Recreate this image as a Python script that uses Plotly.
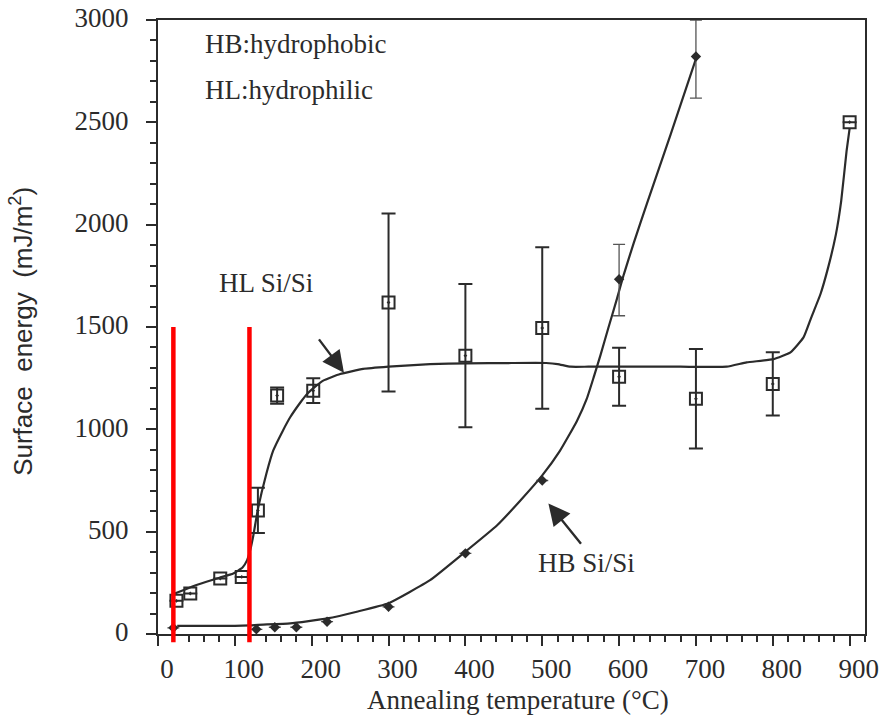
import plotly.graph_objects as go

# ---------------- data ----------------
# HL Si/Si (hydrophilic) measured points
hl_x = [24, 42, 81, 109, 130, 155, 202, 300, 400, 500, 600, 700, 800, 900]
hl_y = [162, 198, 271, 279, 604, 1165, 1189, 1620, 1360, 1495, 1257, 1149, 1222, 2501]
hl_err = [0, 0, 0, 0, 110, 40, 60, 435, 350, 395, 142, 243, 155, 0]

# HB Si/Si (hydrophobic) measured points
hb_x = [20, 128, 152, 180, 220, 300, 400, 500, 600, 700]
hb_y = [30, 23, 33, 33, 60, 133, 394, 750, 1733, 2822]
hb_err_plus = [0, 0, 0, 0, 0, 0, 0, 0, 171, 178]
hb_err_minus = [0, 0, 0, 0, 0, 0, 0, 0, 178, 204]

# HL fitted curve
hl_fit_x = [20, 40, 63, 80, 98, 110, 116, 120, 124, 130, 141, 150, 162, 172, 185, 194,
            205, 215, 237, 267, 300, 354, 402, 460, 505, 520, 537, 560, 620, 680, 740,
            766, 801, 823, 840, 850, 862, 872, 882, 889, 896, 900]
hl_fit_y = [195, 225, 255, 275, 296, 325, 361, 410, 480, 610, 783, 897, 990, 1059, 1130, 1173,
            1210, 1238, 1270, 1295, 1306, 1319, 1322, 1324, 1324, 1319, 1306, 1306, 1306, 1306, 1306,
            1327, 1343, 1376, 1449, 1546, 1660, 1790, 1950, 2115, 2359, 2470]

# HB fitted curve
hb_fit_x = [25, 60, 100, 120, 130, 172, 220, 260, 300, 354, 397, 441, 471, 500, 523, 545,
            558, 567, 576, 586, 597, 606, 619, 636, 667, 700]
hb_fit_y = [40, 40, 40, 42, 45, 52, 76, 110, 150, 263, 393, 530, 650, 775, 895, 1040,
            1150, 1255, 1365, 1495, 1635, 1755, 1910, 2100, 2440, 2810]

# red marker lines (x position, top value, bottom value)
red_x = [20, 119]
red_top = 1500
red_bottom = -40

X_MAX = 920
Y_MAX = 3000

INK = "#2b2b2b"
SERIF = "Liberation Serif, Times New Roman, Times, serif"
SANS = "Liberation Sans, Arial, sans-serif"

fig = go.Figure()

fig.add_trace(go.Scatter(
    x=hl_fit_x, y=hl_fit_y, mode="lines",
    line=dict(color=INK, width=2.2, shape="spline", smoothing=0.4),
    hoverinfo="skip", showlegend=False))
fig.add_trace(go.Scatter(
    x=hb_fit_x, y=hb_fit_y, mode="lines",
    line=dict(color=INK, width=2.2, shape="spline", smoothing=0.4),
    hoverinfo="skip", showlegend=False))

fig.add_trace(go.Scatter(
    x=hl_x, y=hl_y, mode="markers", name="HL Si/Si",
    marker=dict(symbol="square-open-dot", size=12, color=INK, line=dict(width=2, color=INK)),
    error_y=dict(type="data", array=hl_err, symmetric=True, color=INK, thickness=2, width=7),
    showlegend=False))
fig.add_trace(go.Scatter(
    x=hb_x, y=hb_y, mode="markers", name="HB Si/Si",
    marker=dict(symbol="diamond", size=8, color=INK),
    error_y=dict(type="data", array=hb_err_plus, arrayminus=hb_err_minus, symmetric=False,
                 color="#555555", thickness=1.3, width=6),
    showlegend=False))

shapes = []
for rx in red_x:
    shapes.append(dict(type="line", xref="x", yref="y domain",
                       x0=rx, x1=rx, y0=red_top / Y_MAX, y1=red_bottom / Y_MAX,
                       line=dict(color="#ff0000", width=4.5), layer="above"))
# small overhang of the x axis to the left of the y axis
shapes.append(dict(type="line", xref="paper", yref="paper", x0=-0.017, x1=0, y0=0, y1=0,
                   line=dict(color=INK, width=2)))

annotations = [
    dict(x=58, y=2885, xref="x", yref="y", text="HB:hydrophobic", showarrow=False,
         xanchor="left", yanchor="middle", font=dict(family=SERIF, size=27, color=INK)),
    dict(x=58, y=2656, xref="x", yref="y", text="HL:hydrophilic", showarrow=False,
         xanchor="left", yanchor="middle", font=dict(family=SERIF, size=27, color=INK)),
    dict(x=77, y=1715, xref="x", yref="y", text="HL Si/Si", showarrow=False,
         xanchor="left", yanchor="middle", font=dict(family=SERIF, size=27, color=INK)),
    dict(x=492, y=346, xref="x", yref="y", text="HB Si/Si", showarrow=False,
         xanchor="left", yanchor="middle", font=dict(family=SERIF, size=27, color=INK)),
    # arrows
    dict(x=242, y=1277, ax=208, ay=1447, xref="x", yref="y", axref="x", ayref="y",
         text="", showarrow=True, arrowhead=2, arrowsize=1.8, arrowwidth=2.4, arrowcolor=INK),
    dict(x=508, y=638, ax=552, ay=434, xref="x", yref="y", axref="x", ayref="y",
         text="", showarrow=True, arrowhead=2, arrowsize=1.8, arrowwidth=2.4, arrowcolor=INK),
    # axis titles
    dict(x=0.509, y=-0.1075, xref="paper", yref="paper", showarrow=False,
         text="Annealing temperature (°C)", xanchor="center", yanchor="middle",
         font=dict(family=SERIF, size=27, color=INK)),
    dict(x=-0.193, y=0.493, xref="paper", yref="paper", showarrow=False, textangle=-90,
         text="Surface\u00a0 energy\u00a0 (mJ/m<sup>2</sup>)", xanchor="center", yanchor="middle",
         font=dict(family=SANS, size=26, color=INK)),
]

fig.update_layout(
    width=881, height=718,
    margin=dict(l=158, r=16, t=20, b=84, autoexpand=False),
    paper_bgcolor="white", plot_bgcolor="white",
    font=dict(family=SERIF, size=26, color=INK),
    shapes=shapes, annotations=annotations,
    showlegend=False,
    xaxis=dict(range=[0, X_MAX], tickvals=[0, 100, 200, 300, 400, 500, 600, 700, 800, 900],
               ticktext=["0", "100", "200", "300", "400", "500", "600", "700", "800", "900"],
               ticks="outside", ticklen=10, tickwidth=2, tickcolor=INK,
               minor=dict(dtick=20, tick0=0, ticks="outside", ticklen=6, tickwidth=1.5, tickcolor=INK),
               showline=True, linecolor=INK, linewidth=2, mirror=True, automargin=False,
               showgrid=False, zeroline=False, ticklabelshift=9,
               tickfont=dict(family=SERIF, size=27, color=INK)),
    yaxis=dict(range=[0, Y_MAX], tickvals=[0, 500, 1000, 1500, 2000, 2500, 3000],
               ticktext=["0", "500", "1000", "1500", "2000", "2500", "3000"],
               ticks="outside", ticklen=10, tickwidth=2, tickcolor=INK,
               minor=dict(dtick=100, tick0=0, ticks="outside", ticklen=6, tickwidth=1.5, tickcolor=INK),
               showline=True, linecolor=INK, linewidth=2, mirror=True, automargin=False,
               showgrid=False, zeroline=False, ticklabelshift=-2, ticklabelstandoff=12,
               tickfont=dict(family=SERIF, size=27, color=INK)),
)

fig.write_html("out.html")
